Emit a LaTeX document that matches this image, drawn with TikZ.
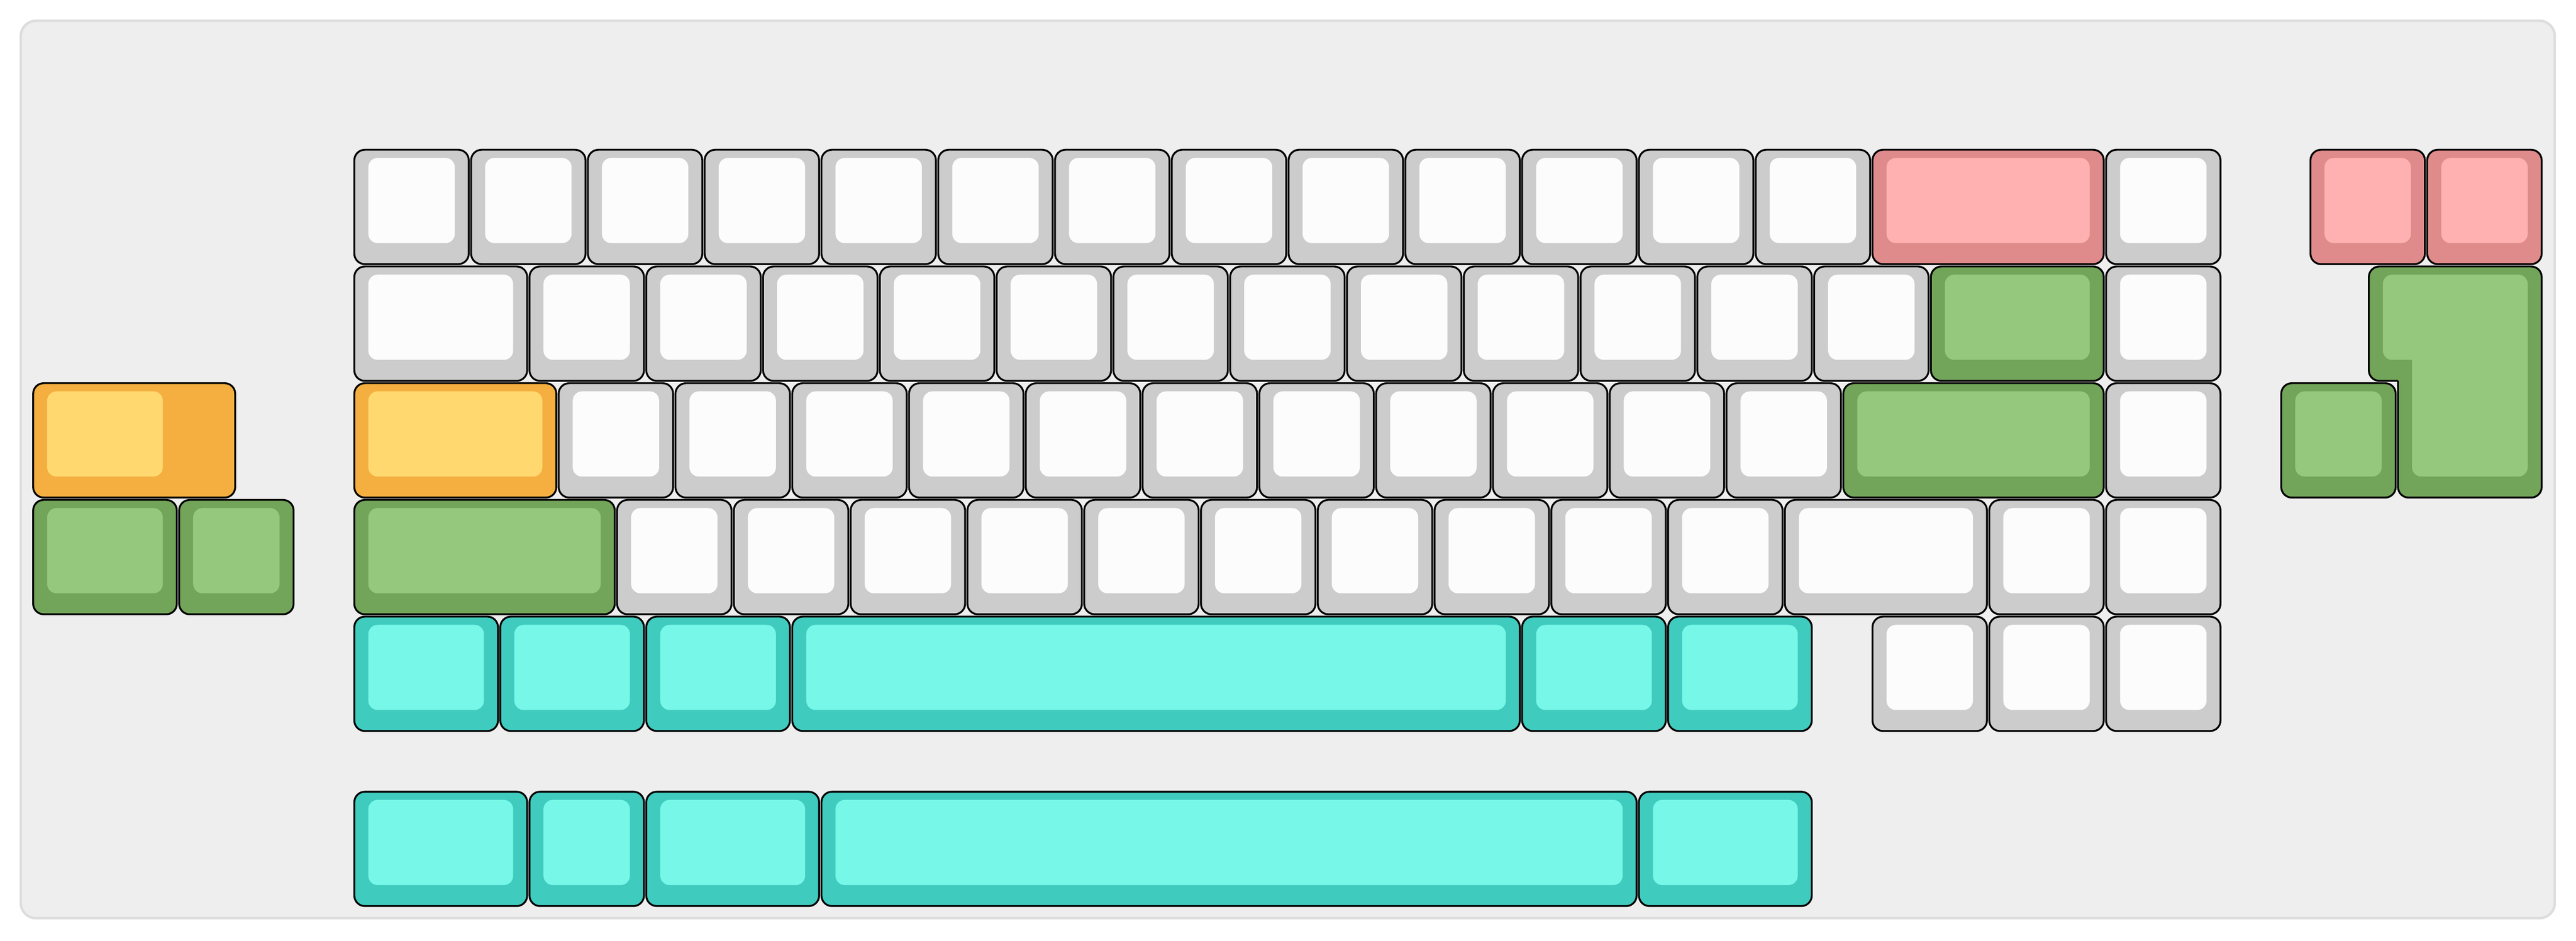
\documentclass[tikz,border=0pt]{standalone}
\usepackage{tikz}
\usepackage{xcolor}

\definecolor{panelbg}{HTML}{EEEEEE}
\definecolor{panelline}{HTML}{DDDDDD}
\definecolor{greyS}{HTML}{CCCCCC}
\definecolor{greyT}{HTML}{FCFCFC}
\definecolor{pinkS}{HTML}{E08B8B}
\definecolor{pinkT}{HTML}{FFB0B0}
\definecolor{greenS}{HTML}{72A459}
\definecolor{greenT}{HTML}{95C77C}
\definecolor{yellowS}{HTML}{F4AF40}
\definecolor{yellowT}{HTML}{FFD970}
\definecolor{tealS}{HTML}{40CBBF}
\definecolor{tealT}{HTML}{76F7E7}

% x, row, width, width of the top, colour
\newcommand{\kcap}[5]{%
  \path[capside,fill=#5S] (#1+0.01,#2+0.01) rectangle (#1+#3-0.01,#2+0.99);
  \path[captop,fill=#5T] (#1+0.13,#2+0.08) rectangle (#1+#4-0.13,#2+0.81);}

\begin{document}
\begin{tikzpicture}[x=1cm,y=-1cm,
  capside/.style={draw=black,line width=0.45pt,rounded corners=0.09cm},
  captop/.style={rounded corners=0.08cm}]
  \useasboundingbox (0,0) rectangle (22.058,8.058);
  \path[draw=panelline,fill=panelbg,line width=0.6pt,rounded corners=0.13cm]
    (0.178,0.178) rectangle (21.876,7.867);

  \begin{scope}[shift={(3.024,1.273)}]
  % row 1
  \foreach \i in {0,...,12} \kcap{\i}{0}{1}{1}{grey};
  \kcap{13}{0}{2}{2}{pink}
  \kcap{15}{0}{1}{1}{grey}
  \kcap{16.75}{0}{1}{1}{pink}
  \kcap{17.75}{0}{1}{1}{pink}
  % row 2
  \kcap{0}{1}{1.5}{1.5}{grey}
  \foreach \i in {1.5,2.5,...,12.5} \kcap{\i}{1}{1}{1}{grey};
  \kcap{13.5}{1}{1.5}{1.5}{green}
  \kcap{15}{1}{1}{1}{grey}
  % iso enter, starting at the inner corner so that it stays sharp
  \path[capside,fill=greenS,line cap=square] (17.51,1.99) -- (17.26,1.99)
    -- (17.26,1.01) -- (18.74,1.01) -- (18.74,2.99) -- (17.51,2.99) -- (17.51,1.99);
  \path[captop,fill=greenT] (17.63,1.81) -- (17.38,1.81) -- (17.38,1.08)
    -- (18.62,1.08) -- (18.62,2.81) -- (17.63,2.81) -- (17.63,1.81);
  % row 3
  \kcap{-2.75}{2}{1.75}{1.25}{yellow}
  \kcap{0}{2}{1.75}{1.75}{yellow}
  \foreach \i in {1.75,2.75,...,11.75} \kcap{\i}{2}{1}{1}{grey};
  \kcap{12.75}{2}{2.25}{2.25}{green}
  \kcap{15}{2}{1}{1}{grey}
  \kcap{16.5}{2}{1}{1}{green}
  % row 4
  \kcap{-2.75}{3}{1.25}{1.25}{green}
  \kcap{-1.5}{3}{1}{1}{green}
  \kcap{0}{3}{2.25}{2.25}{green}
  \foreach \i in {2.25,3.25,...,11.25} \kcap{\i}{3}{1}{1}{grey};
  \kcap{12.25}{3}{1.75}{1.75}{grey}
  \kcap{14}{3}{1}{1}{grey}
  \kcap{15}{3}{1}{1}{grey}
  % row 5
  \foreach \i in {0,1.25,2.5} \kcap{\i}{4}{1.25}{1.25}{teal};
  \kcap{3.75}{4}{6.25}{6.25}{teal}
  \foreach \i in {10,11.25} \kcap{\i}{4}{1.25}{1.25}{teal};
  \foreach \i in {13,14,15} \kcap{\i}{4}{1}{1}{grey};
  % row 6
  \kcap{0}{5.5}{1.5}{1.5}{teal}
  \kcap{1.5}{5.5}{1}{1}{teal}
  \kcap{2.5}{5.5}{1.5}{1.5}{teal}
  \kcap{4}{5.5}{7}{7}{teal}
  \kcap{11}{5.5}{1.5}{1.5}{teal}
  \end{scope}
\end{tikzpicture}
\end{document}
